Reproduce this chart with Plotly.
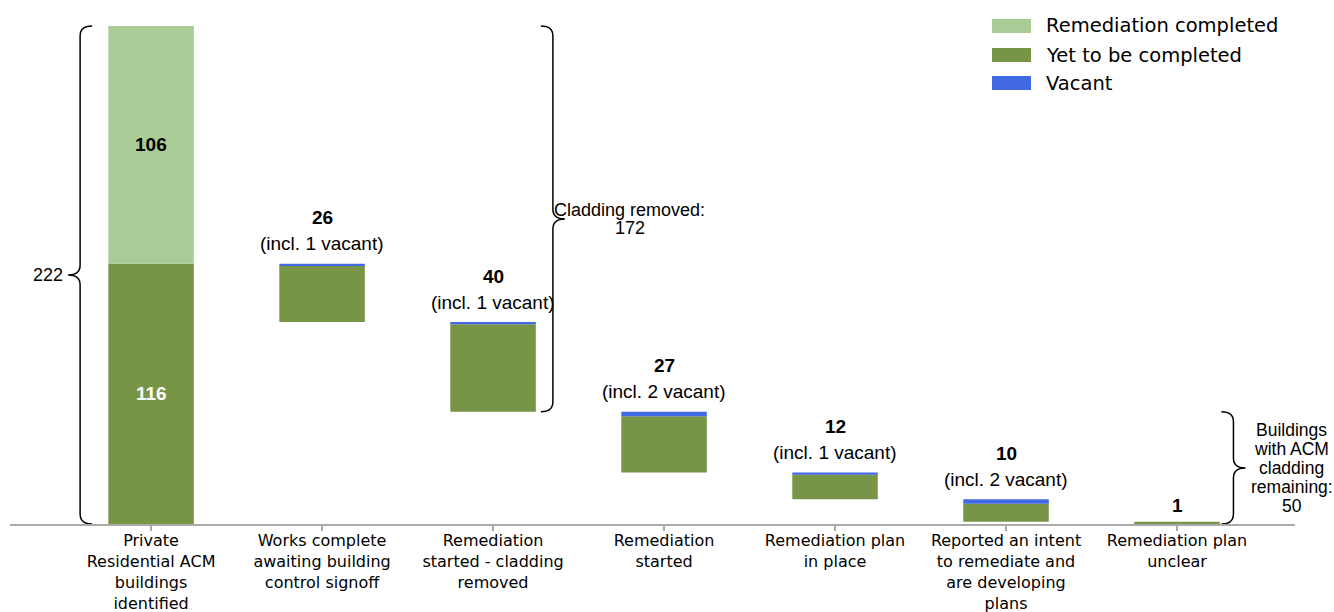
import plotly.graph_objects as go

# ---------------- data ----------------
categories = [
    "Private<br>Residential ACM<br>buildings<br>identified",
    "Works complete<br>awaiting building<br>control signoff",
    "Remediation<br>started - cladding<br>removed",
    "Remediation<br>started",
    "Remediation plan<br>in place",
    "Reported an intent<br>to remediate and<br>are developing<br>plans",
    "Remediation plan<br>unclear",
]
completed = [106, 0, 0, 0, 0, 0, 0]
yet_to_complete = [116, 25, 39, 25, 11, 8, 1]
vacant = [0, 1, 1, 2, 1, 2, 0]
totals = [222, 26, 40, 27, 12, 10, 1]
legend_names = ["Remediation completed", "Yet to be completed", "Vacant"]

# ---------------- styling ----------------
LIGHT = "#a9cb96"
DARK = "#789446"
BLUE = "#4169e1"
AX_GREY = "#aaaaaa"
ARIAL = "Liberation Sans, Arial, sans-serif"
DEJAVU = "DejaVu Sans, sans-serif"

W, H = 1334, 612
ML, MR, MT, MB = 10, 39, 8, 88
PW, PH = W - ML - MR, H - MT - MB
X_RANGE = [-0.825, 6.69]
Y_TOP = 230.0

x = list(range(len(categories)))

# waterfall bases
bases = [0]
level = yet_to_complete[0]
for t in totals[1:]:
    level -= t
    bases.append(level)
vac_base = [b + y for b, y in zip(bases, yet_to_complete)]
comp_base = [yet_to_complete[0]] * len(categories)

fig = go.Figure()
fig.add_trace(go.Bar(x=x, y=yet_to_complete, base=bases, name=legend_names[1],
                     marker=dict(color=DARK, line=dict(width=0)), width=0.5, showlegend=False))
fig.add_trace(go.Bar(x=x, y=vacant, base=vac_base, name=legend_names[2],
                     marker=dict(color=BLUE, line=dict(width=0)), width=0.5, showlegend=False))
fig.add_trace(go.Bar(x=x, y=completed, base=comp_base, name=legend_names[0],
                     marker=dict(color=LIGHT, line=dict(width=0)), width=0.5, showlegend=False))

annotations = []
shapes = []

# labels inside first bar
annotations.append(dict(x=0, y=comp_base[0] + completed[0] / 2, text=f"<b>{completed[0]}</b>",
                        showarrow=False, font=dict(family=ARIAL, size=19, color="black")))
annotations.append(dict(x=0, y=yet_to_complete[0] / 2, text=f"<b>{yet_to_complete[0]}</b>",
                        showarrow=False, font=dict(family=ARIAL, size=19, color="white")))

# labels above floating bars
for i in range(1, len(categories)):
    top = bases[i] + totals[i]
    if vacant[i]:
        annotations.append(dict(x=i, y=top, text=f"(incl. {vacant[i]} vacant)", showarrow=False,
                                yanchor="middle", yshift=20,
                                font=dict(family=ARIAL, size=19, color="black")))
        num_shift = 46
    else:
        num_shift = 16
    annotations.append(dict(x=i, y=top, text=f"<b>{totals[i]}</b>", showarrow=False,
                            yanchor="middle", yshift=num_shift,
                            font=dict(family=ARIAL, size=19, color="black")))

# braces
px_x = PW / (X_RANGE[1] - X_RANGE[0])
px_y = PH / Y_TOP
DX = 12 / px_x
DY = 10 / px_y


def brace(xb, y0, y1, side):
    ym = (y0 + y1) / 2
    c = -side * DX
    t = side * DX
    return (f"M {xb + c},{y1} Q {xb},{y1} {xb},{y1 - DY} L {xb},{ym + DY} "
            f"Q {xb},{ym} {xb + t},{ym} Q {xb},{ym} {xb},{ym - DY} "
            f"L {xb},{y0 + DY} Q {xb},{y0} {xb + c},{y0}")


total_all = completed[0] + yet_to_complete[0]
cladding_removed = completed[0] + totals[1] + totals[2]
remaining = sum(totals[3:])

braces = [
    (-0.415, 0, total_all, -1),
    (2.35, bases[2], total_all, 1),
    (6.33, 0, remaining, 1),
]
for xb, y0, y1, side in braces:
    shapes.append(dict(type="path", xref="x", yref="y", path=brace(xb, y0, y1, side),
                       line=dict(color="black", width=1.5)))

annotations.append(dict(x=-0.415 - DX, y=total_all / 2, text=f"{total_all}", showarrow=False,
                        xanchor="right", xshift=-3,
                        font=dict(family=ARIAL, size=18, color="black")))

# "Cladding removed: 172" (two lines, tight spacing)
clad_lines = ["Cladding removed:", f"{cladding_removed}"]
clad_x = 2.35 + (630 - 553) / px_x
for k, line in enumerate(clad_lines):
    annotations.append(dict(x=clad_x, y=(bases[2] + total_all) / 2, text=line, showarrow=False,
                            xanchor="center", yanchor="middle", yshift=9 - 18 * k,
                            font=dict(family=ARIAL, size=18, color="black")))

# "Buildings with ACM cladding remaining: 50"
rem_lines = ["Buildings", "with ACM", "cladding", "remaining:", f"{remaining}"]
for k, line in enumerate(rem_lines):
    annotations.append(dict(x=6.67, y=remaining / 2, text=line, showarrow=False,
                            xanchor="center", yanchor="middle", yshift=(2 - k) * 19,
                            font=dict(family=ARIAL, size=17.5, color="black")))

# custom legend (swatches + labels)
leg_colors = [LIGHT, DARK, BLUE]
leg_y_px = [26, 55, 83]
for name, col, ypx in zip(legend_names, leg_colors, leg_y_px):
    yc = (H - MB - ypx) / PH
    shapes.append(dict(type="rect", xref="paper", yref="paper",
                       x0=(992 - ML) / PW, x1=(1031 - ML) / PW,
                       y0=yc - 7 / PH, y1=yc + 7 / PH,
                       fillcolor=col, line=dict(width=0)))
    annotations.append(dict(xref="paper", yref="paper", x=(1044 - ML) / PW, y=yc,
                            text=name, showarrow=False, xanchor="left", yanchor="middle",
                            font=dict(family=DEJAVU, size=19.5, color="black")))

fig.update_layout(
    width=W, height=H,
    margin=dict(l=ML, r=MR, t=MT, b=MB, autoexpand=False),
    barmode="overlay",
    plot_bgcolor="white", paper_bgcolor="white",
    showlegend=False,
    shapes=shapes,
    annotations=annotations,
    xaxis=dict(range=X_RANGE, tickmode="array", tickvals=x, ticktext=categories,
               automargin=False, ticklabelstandoff=-4,
               showline=True, linecolor=AX_GREY, linewidth=2, showgrid=False, zeroline=False,
               ticks="outside", ticklen=5, tickwidth=1.5, tickcolor=AX_GREY,
               tickfont=dict(family=DEJAVU, size=16, color="black")),
    yaxis=dict(range=[0, Y_TOP], visible=False, showgrid=False, zeroline=False,
               automargin=False),
)

fig.write_html("out.html", config={"displayModeBar": False},
               post_script="document.body.style.margin='0';document.body.style.overflow='hidden';")
